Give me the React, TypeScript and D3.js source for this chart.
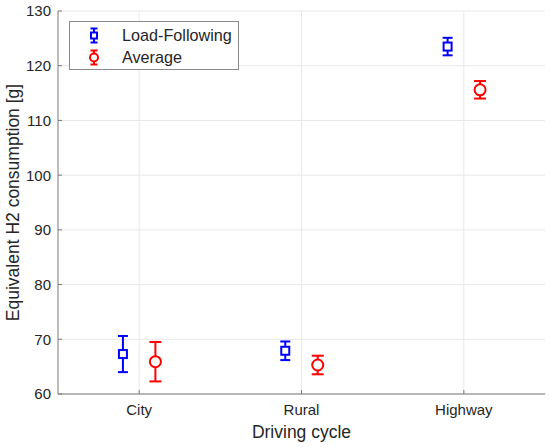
import React from "react";
import * as d3 from "d3";

const categories = ["City", "Rural", "Highway"];
const loadFollowingMean = [67.3, 67.9, 123.5];
const loadFollowingErr = [3.3, 1.7, 1.6];
const averageMean = [65.9, 65.3, 115.6];
const averageErr = [3.6, 1.7, 1.6];
const yTicks = [60, 70, 80, 90, 100, 110, 120, 130];
const seriesNames = ["Load-Following", "Average"];

const W = 550;
const H = 447;
const M = { left: 58, right: 545, top: 11, bottom: 394 };
const FONT = "'Liberation Sans', Arial, Helvetica, sans-serif";
const TEXT = "#262626";
const AXIS = "#7a7a7a";
const GRID = "#e8e8e8";

export default function App() {
  const x = d3.scaleLinear().domain([0.5, 3.5]).range([M.left, M.right]);
  const y = d3.scaleLinear().domain([60, 130]).range([M.bottom, M.top]);
  const off = 0.1;

  const series = [
    { name: seriesNames[0], mean: loadFollowingMean, err: loadFollowingErr, color: "#0000ff", dx: -off, marker: "square", cap: 5 },
    { name: seriesNames[1], mean: averageMean, err: averageErr, color: "#ff0000", dx: off, marker: "circle", cap: 6 },
  ];

  return (
    <svg width={W} height={H} style={{ position: "absolute", left: 0, top: 0, background: "#fff" }} fontFamily={FONT}>
      {/* grid */}
      {yTicks.map((t) => (
        <line key={"gy" + t} x1={M.left} x2={M.right} y1={y(t)} y2={y(t)} stroke={GRID} strokeWidth={1} />
      ))}
      {categories.map((c, i) => (
        <line key={"gx" + c} x1={x(i + 1)} x2={x(i + 1)} y1={M.top} y2={M.bottom} stroke={GRID} strokeWidth={1} />
      ))}
      {/* axes */}
      <line x1={M.left} x2={M.left} y1={M.top} y2={M.bottom} stroke={AXIS} strokeWidth={1} />
      <line x1={M.left} x2={M.right} y1={M.bottom} y2={M.bottom} stroke={AXIS} strokeWidth={1} />
      {yTicks.map((t) => (
        <g key={"ty" + t}>
          <line x1={M.left} x2={M.left + 4} y1={y(t)} y2={y(t)} stroke={AXIS} />
          <text x={M.left - 7} y={y(t)} dy="0.36em" textAnchor="end" fontSize={15} fill={TEXT}>
            {t}
          </text>
        </g>
      ))}
      {categories.map((c, i) => (
        <g key={"tx" + c}>
          <line x1={x(i + 1)} x2={x(i + 1)} y1={M.bottom} y2={M.bottom - 4} stroke={AXIS} />
          <text x={x(i + 1)} y={415} textAnchor="middle" fontSize={15} fill={TEXT}>
            {c}
          </text>
        </g>
      ))}
      <text x={(M.left + M.right) / 2} y={438} textAnchor="middle" fontSize={17.5} fill={TEXT}>
        Driving cycle
      </text>
      <text
        transform={`translate(19,${(M.top + M.bottom) / 2}) rotate(-90)`}
        textAnchor="middle"
        fontSize={17.5}
        fill={TEXT}
      >
        Equivalent H2 consumption [g]
      </text>
      {/* data */}
      {series.map((s) =>
        s.mean.map((m, i) => {
          const cx = x(i + 1 + s.dx);
          const yt = y(m + s.err[i]);
          const yb = y(m - s.err[i]);
          const cy = y(m);
          return (
            <g key={s.name + i} stroke={s.color} strokeWidth={2} fill="none">
              <line x1={cx} x2={cx} y1={yt} y2={yb} />
              <line x1={cx - s.cap} x2={cx + s.cap} y1={yt} y2={yt} />
              <line x1={cx - s.cap} x2={cx + s.cap} y1={yb} y2={yb} />
              {s.marker === "square" ? (
                <rect x={cx - 4} y={cy - 4} width={8} height={8} fill="#fff" />
              ) : (
                <circle cx={cx} cy={cy} r={5.5} fill="#fff" />
              )}
            </g>
          );
        })
      )}
      {/* legend */}
      <rect x={69.5} y={21.5} width={169} height={48} fill="#fff" stroke="#8a8a8a" strokeWidth={1} />
      {series.map((s, k) => {
        const ly = 35.5 + k * 22;
        const lx = 94;
        return (
          <g key={"lg" + k}>
            <g stroke={s.color} strokeWidth={2} fill="none">
              <line x1={lx} x2={lx} y1={ly - 7} y2={ly + 7} />
              <line x1={lx - 3.5} x2={lx + 3.5} y1={ly - 7} y2={ly - 7} />
              <line x1={lx - 3.5} x2={lx + 3.5} y1={ly + 7} y2={ly + 7} />
              {s.marker === "square" ? (
                <rect x={lx - 3} y={ly - 3} width={6} height={6} fill="#fff" />
              ) : (
                <circle cx={lx} cy={ly} r={4} fill="#fff" />
              )}
            </g>
            <text x={122} y={ly} dy="0.36em" fontSize={16.2} fill={TEXT}>
              {s.name}
            </text>
          </g>
        );
      })}
    </svg>
  );
}
